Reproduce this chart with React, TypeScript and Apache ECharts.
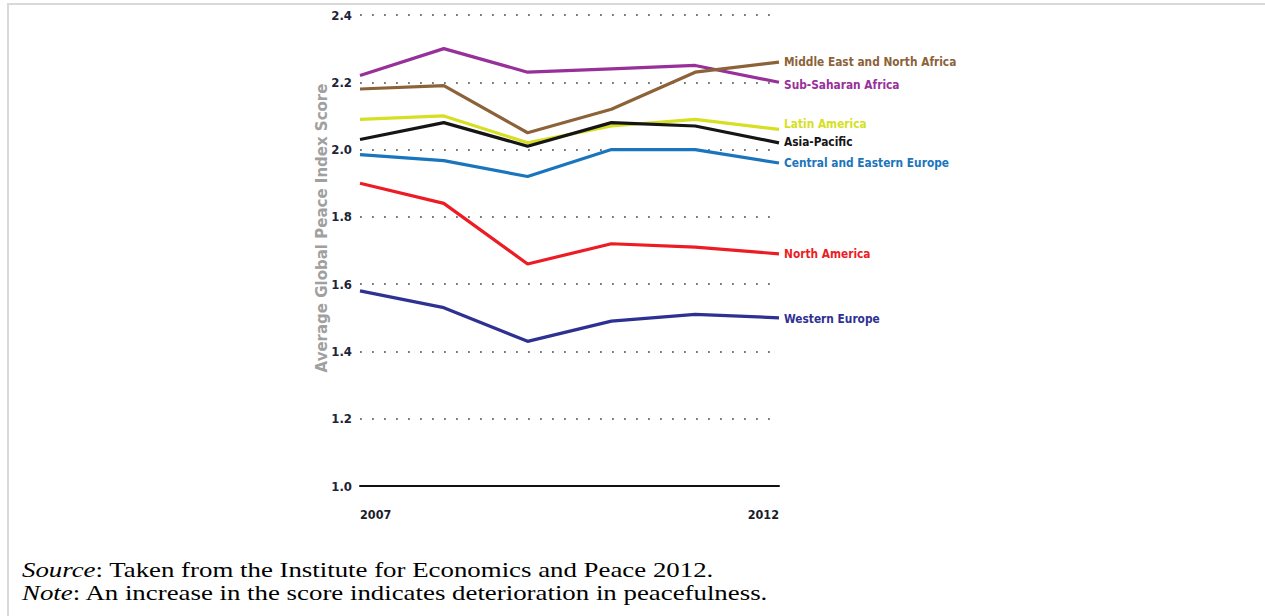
import React, { useEffect, useRef } from 'react';
import * as echarts from 'echarts';

// GPI averages by region, 2007-2012
const years = ['2007', '2008', '2009', '2010', '2011', '2012'];
const shownYears = ['2007', '2012'];

const regionNames = [
  'Sub-Saharan Africa',
  'Middle East and North Africa',
  'Latin America',
  'Asia-Pacific',
  'Central and Eastern Europe',
  'North America',
  'Western Europe',
];

const subSaharanAfrica = [2.22, 2.3, 2.23, 2.24, 2.25, 2.2];
const middleEastNorthAfrica = [2.18, 2.19, 2.05, 2.12, 2.23, 2.26];
const latinAmerica = [2.09, 2.1, 2.02, 2.07, 2.09, 2.06];
const asiaPacific = [2.03, 2.08, 2.01, 2.08, 2.07, 2.02];
const centralEasternEurope = [1.985, 1.967, 1.92, 2.0, 2.0, 1.96];
const northAmerica = [1.9, 1.84, 1.66, 1.72, 1.71, 1.69];
const westernEurope = [1.58, 1.53, 1.43, 1.49, 1.51, 1.5];

const regionValues = [
  subSaharanAfrica,
  middleEastNorthAfrica,
  latinAmerica,
  asiaPacific,
  centralEasternEurope,
  northAmerica,
  westernEurope,
];

const yMin = 1.0;
const yMax = 2.4;
const yStep = 0.2;

const colors = ['#98309a', '#8c6239', '#d7df23', '#151515', '#1b75bc', '#ed1c24', '#2e3192'];
// small vertical nudges so the end labels don't collide
const labelNudge = [3, 0, -5, -1, 0, 0, 1];

const narrow = "'DejaVu Sans Condensed', 'DejaVu Sans', sans-serif";

const App: React.FC = () => {
  const chartRef = useRef<HTMLDivElement>(null);

  useEffect(() => {
    if (!chartRef.current) return;
    const chart = echarts.init(chartRef.current, undefined, { renderer: 'svg' });

    const option = {
      animation: false,
      grid: { left: 360, right: 486, top: 15, height: 471 },
      xAxis: {
        type: 'category',
        data: years,
        boundaryGap: false,
        axisLine: { show: true, lineStyle: { color: '#111', width: 2 } },
        axisTick: { show: false },
        splitLine: { show: false },
        axisLabel: {
          margin: 22,
          interval: (_i: number, v: string) => shownYears.includes(v),
          alignMinLabel: 'left',
          alignMaxLabel: 'right',
          fontFamily: narrow,
          fontWeight: 'bold',
          fontSize: 12.5,
          color: '#1c1c2c',
        },
      },
      yAxis: {
        type: 'value',
        min: yMin,
        max: yMax,
        interval: yStep,
        axisLine: { show: false },
        axisTick: { show: false },
        axisLabel: {
          margin: 8,
          formatter: (v: number) => v.toFixed(1),
          fontFamily: narrow,
          fontWeight: 'bold',
          fontSize: 13,
          color: '#1e2438',
        },
        splitLine: {
          show: true,
          lineStyle: { color: '#777', width: 1.8, type: [1.8, 10.2] },
        },
      },
      graphic: [
        {
          type: 'text',
          x: 322,
          y: 228,
          rotation: Math.PI / 2,
          style: {
            text: 'Average Global Peace Index Score',
            fill: '#a0a0a0',
            font: "bold 15px 'DejaVu Sans', sans-serif",
            align: 'center',
            verticalAlign: 'middle',
          },
        },
      ],
      series: regionNames.map((name, i) => ({
        name,
        type: 'line',
        data: regionValues[i],
        showSymbol: false,
        lineStyle: { color: colors[i], width: 3.2 },
        itemStyle: { color: colors[i] },
        endLabel: {
          show: true,
          formatter: name,
          distance: 5,
          offset: [0, labelNudge[i]],
          color: colors[i],
          fontFamily: narrow,
          fontWeight: 'bold',
          fontSize: 11.8,
        },
      })),
    };

    chart.setOption(option);
    return () => chart.dispose();
  }, []);

  return (
    <div style={{ position: 'absolute', left: 0, top: 0, width: 1265, height: 616, background: '#fff', overflow: 'hidden' }}>
      <div
        style={{
          position: 'absolute',
          left: 7,
          top: 3,
          right: 0,
          bottom: 0,
          borderTop: '2px solid #d9d9d9',
          borderLeft: '2px solid #d9d9d9',
        }}
      />
      <div ref={chartRef} style={{ position: 'absolute', left: 0, top: 0, width: 1265, height: 545 }} />
      <div
        style={{
          position: 'absolute',
          left: 22,
          top: 558,
          fontFamily: "'Liberation Serif', 'Times New Roman', serif",
          fontSize: 22,
          lineHeight: '23px',
          color: '#000',
          whiteSpace: 'nowrap',
          transform: 'scaleX(1.22)',
          transformOrigin: 'left top',
        }}
      >
        <div>
          <i>Source</i>: Taken from the Institute for Economics and Peace 2012.
        </div>
        <div>
          <i>Note</i>: An increase in the score indicates deterioration in peacefulness.
        </div>
      </div>
    </div>
  );
};

export default App;
